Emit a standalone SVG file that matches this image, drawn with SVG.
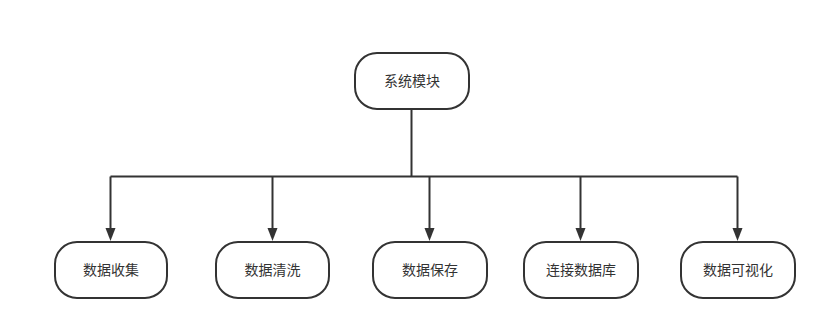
<svg xmlns="http://www.w3.org/2000/svg" width="831" height="335" viewBox="0 0 831 335">
<style>
.node rect{fill:#fff;stroke:#333;stroke-width:2}
.node text{font-family:"Liberation Sans","Noto Sans CJK SC",sans-serif;font-size:14px;fill:#333;text-anchor:middle;dominant-baseline:central}
.edge{fill:none;stroke:#333;stroke-width:2}
</style>
<defs>
<marker id="arr" markerWidth="10" markerHeight="12" refX="5" refY="12" orient="auto" markerUnits="userSpaceOnUse" viewBox="0 0 10 12">
<path d="M0,0 L10,0 L5,12 Z" fill="#333"/>
</marker>
</defs>
<rect width="831" height="335" fill="#fff"/>
<g id="connectors">
<path class="edge" d="M411.5,109 V176.5"/>
<path class="edge" d="M110.5,176.5 H737.5"/>
<path class="edge" d="M110.5,176.5 V228"/>
<path class="edge" d="M272.5,176.5 V228"/>
<path class="edge" d="M429.5,176.5 V228"/>
<path class="edge" d="M580.5,176.5 V228"/>
<path class="edge" d="M737.5,176.5 V228"/>
<path d="M105.5,228 L115.5,228 L110.5,241 Z" fill="#333"/>
<path d="M267.5,228 L277.5,228 L272.5,241 Z" fill="#333"/>
<path d="M424.5,228 L434.5,228 L429.5,241 Z" fill="#333"/>
<path d="M575.5,228 L585.5,228 L580.5,241 Z" fill="#333"/>
<path d="M732.5,228 L742.5,228 L737.5,241 Z" fill="#333"/>
</g>
<g id="n0" class="node"><rect x="355" y="53" width="114" height="56" rx="22"/><text x="412" y="81">系统模块</text></g>
<g id="n1" class="node"><rect x="55" y="242" width="112" height="56" rx="22"/><text x="111" y="270">数据收集</text></g>
<g id="n2" class="node"><rect x="216" y="242" width="113" height="56" rx="22"/><text x="272.5" y="270">数据清洗</text></g>
<g id="n3" class="node"><rect x="373" y="242" width="114" height="56" rx="22"/><text x="430" y="270">数据保存</text></g>
<g id="n4" class="node"><rect x="524" y="242" width="114" height="56" rx="22"/><text x="581" y="270">连接数据库</text></g>
<g id="n5" class="node"><rect x="681" y="242" width="114" height="56" rx="22"/><text x="738" y="270">数据可视化</text></g>
</svg>
